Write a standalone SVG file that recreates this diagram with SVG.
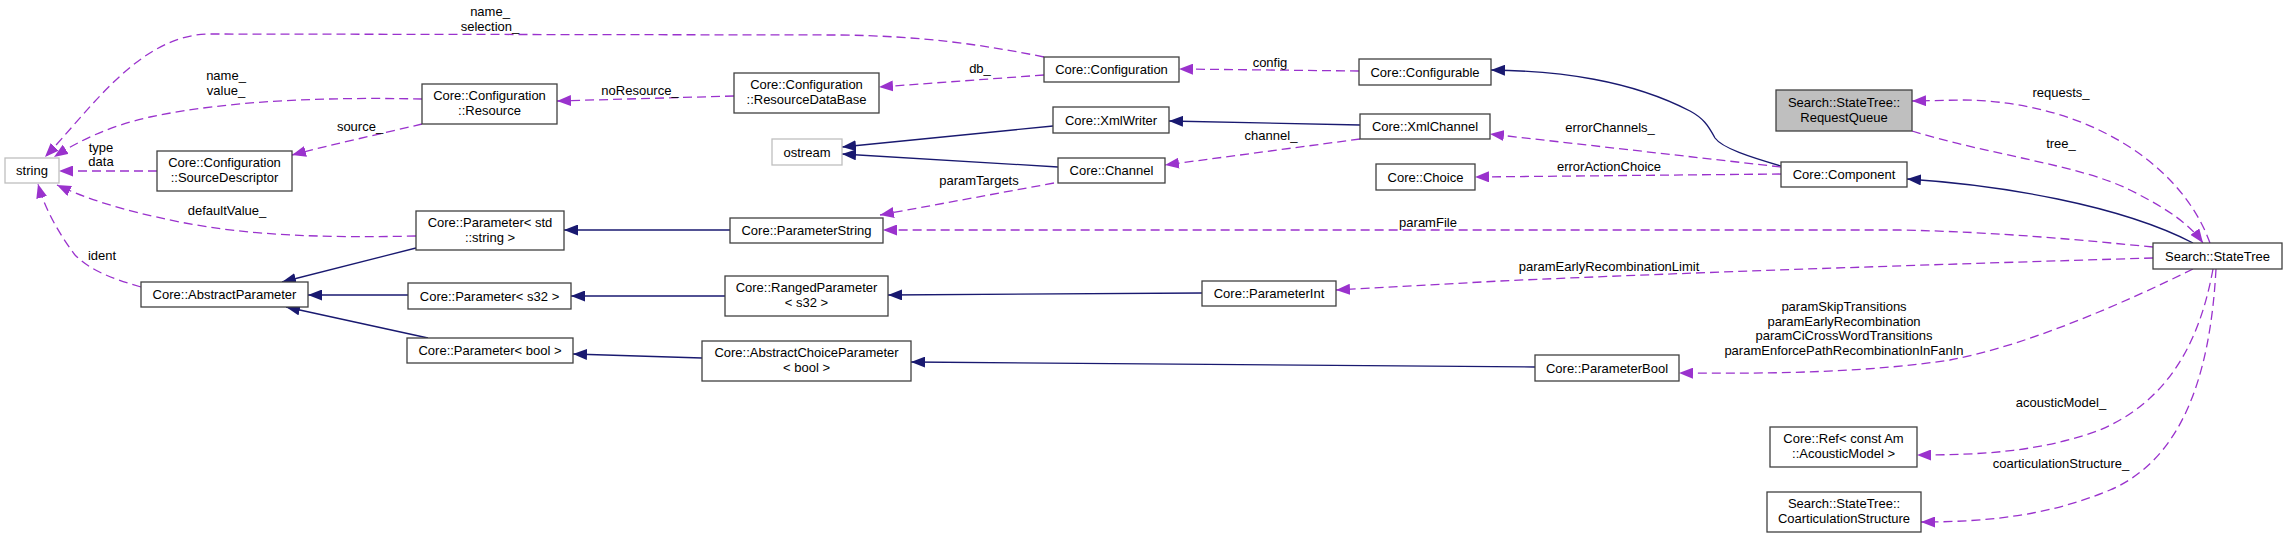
<svg xmlns="http://www.w3.org/2000/svg" width="2287" height="538" viewBox="0 0 2287 538">
<style>
text{font-family:"Liberation Sans",Arial,sans-serif;font-size:13px;fill:#000;text-anchor:middle}
.n{fill:#fff;stroke:#404040;stroke-width:1.3}
.x{fill:#fff;stroke:#bfbfbf;stroke-width:1.3}
.g{fill:#bfbfbf;stroke:#404040;stroke-width:1.3}
.i{fill:none;stroke:#191970;stroke-width:1.3;marker-end:url(#ab)}
.u{fill:none;stroke:#9a32cd;stroke-width:1.3;stroke-dasharray:9,5;marker-end:url(#ap)}
</style>
<defs>
<marker id="ab" markerUnits="userSpaceOnUse" markerWidth="14" markerHeight="11" refX="14" refY="5.5" orient="auto"><path d="M0,0 L14,5.5 L0,11 z" fill="#191970"/></marker>
<marker id="ap" markerUnits="userSpaceOnUse" markerWidth="14" markerHeight="11" refX="14" refY="5.5" orient="auto"><path d="M0,0 L14,5.5 L0,11 z" fill="#9a32cd"/></marker>
</defs>
<rect width="2287" height="538" fill="#fff"/>
<g id="edges">
<path class="u" d="M1044,57 C980,44 920,36 840,35 L210,34 C140,34 90,110 45,157"/>
<text x="490" y="16">name_</text><text x="490" y="30.5">selection_</text>
<path class="u" d="M422,99 C330,97 230,100 150,117 C110,126 80,140 54,157"/>
<text x="226" y="80">name_</text><text x="226" y="95">value_</text>
<path class="u" d="M422,124 C380,134 330,145 292,155"/>
<text x="360" y="131">source_</text>
<path class="u" d="M157,171 L59,171"/>
<text x="101" y="152">type</text><text x="101" y="166">data</text>
<path class="u" d="M416,236 C330,238 250,236 180,222 C120,210 85,198 57,185"/>
<text x="227" y="215">defaultValue_</text>
<path class="u" d="M141,287 C110,278 90,270 75,255 C60,235 45,210 38,184"/>
<text x="102" y="260">ident</text>
<path class="i" d="M416,248 L282,282"/>
<path class="i" d="M408,295 L308,295"/>
<path class="i" d="M428,338 L286,307"/>
<path class="i" d="M730,230 L564,230"/>
<path class="i" d="M725,296 L571,296"/>
<path class="i" d="M702,358 L573,354"/>
<path class="i" d="M1202,293 L888,295"/>
<path class="i" d="M1535,367 L911,362"/>
<path class="u" d="M734,96 L557,101"/>
<text x="640" y="95">noResource_</text>
<path class="u" d="M1044,75 L879,87"/>
<text x="980" y="73">db_</text>
<path class="u" d="M1359,71 L1179,69"/>
<text x="1270" y="67">config</text>
<path class="i" d="M1053,126 L842,147"/>
<path class="i" d="M1058,167 L842,154"/>
<path class="i" d="M1360,125 L1169,121"/>
<path class="u" d="M1360,139 L1165,165"/>
<text x="1271" y="140">channel_</text>
<path class="u" d="M1054,183 L880,215"/>
<text x="979" y="185">paramTargets</text>
<path class="i" d="M1781,166 C1750,157 1722,148 1715,138 C1708,125 1703,118 1690,111 C1630,80 1560,71 1491,70"/>
<path class="u" d="M1781,167 L1490,134"/>
<text x="1610" y="132">errorChannels_</text>
<path class="u" d="M1781,174 L1475,177"/>
<text x="1609" y="171">errorActionChoice</text>
<path class="i" d="M2193,243 C2120,205 2000,185 1907,179"/>
<path class="u" d="M2210,243 C2180,160 2080,100 1960,100 L1912,101"/>
<text x="2061" y="97">requests_</text>
<path class="u" d="M1912,131 C1990,155 2080,165 2130,190 C2170,210 2190,225 2203,243"/>
<text x="2061" y="148">tree_</text>
<path class="u" d="M2153,247 C2080,240 2000,232 1900,230 L883,230"/>
<text x="1428" y="227">paramFile</text>
<path class="u" d="M2153,258 C1950,264 1700,272 1500,281 L1336,290"/>
<text x="1609" y="271">paramEarlyRecombinationLimit</text>
<path class="u" d="M2193,269 C2130,300 2030,345 1950,360 C1870,372 1780,374 1679,373"/>
<text x="1844" y="311">paramSkipTransitions</text>
<text x="1844" y="325.5">paramEarlyRecombination</text>
<text x="1844" y="340">paramCiCrossWordTransitions</text>
<text x="1844" y="355">paramEnforcePathRecombinationInFanIn</text>
<path class="u" d="M2213,269 C2200,340 2170,400 2100,430 C2040,452 1980,455 1917,455"/>
<text x="2061" y="407">acousticModel_</text>
<path class="u" d="M2216,269 C2210,380 2180,460 2110,490 C2050,515 1990,522 1921,522"/>
<text x="2061" y="468">coarticulationStructure_</text>
</g>
<g id="string"><rect class="x" x="5" y="158" width="54" height="25"/><text x="32" y="175">string</text></g>
<g id="sourcedescriptor"><rect class="n" x="157" y="151" width="135" height="40"/><text x="224.5" y="167">Core::Configuration</text><text x="224.5" y="181.5">::SourceDescriptor</text></g>
<g id="resource"><rect class="n" x="422" y="84" width="135" height="40"/><text x="489.5" y="100">Core::Configuration</text><text x="489.5" y="115">::Resource</text></g>
<g id="paramstdstring"><rect class="n" x="416" y="211" width="148" height="39"/><text x="490" y="227">Core::Parameter&lt; std</text><text x="490" y="242">::string &gt;</text></g>
<g id="abstractparameter"><rect class="n" x="141" y="282" width="167" height="25"/><text x="224.5" y="299">Core::AbstractParameter</text></g>
<g id="params32"><rect class="n" x="408" y="283" width="163" height="26"/><text x="489.5" y="300.5">Core::Parameter&lt; s32 &gt;</text></g>
<g id="parambool"><rect class="n" x="407" y="338" width="166" height="25"/><text x="490" y="355">Core::Parameter&lt; bool &gt;</text></g>
<g id="rangedparameter"><rect class="n" x="725" y="276" width="163" height="40"/><text x="806.5" y="292">Core::RangedParameter</text><text x="806.5" y="307">&lt; s32 &gt;</text></g>
<g id="abstractchoiceparameter"><rect class="n" x="702" y="341" width="209" height="40"/><text x="806.5" y="357">Core::AbstractChoiceParameter</text><text x="806.5" y="372">&lt; bool &gt;</text></g>
<g id="parameterint"><rect class="n" x="1202" y="281" width="134" height="25"/><text x="1269" y="298">Core::ParameterInt</text></g>
<g id="resourcedatabase"><rect class="n" x="734" y="73" width="145" height="40"/><text x="806.5" y="89">Core::Configuration</text><text x="806.5" y="104">::ResourceDataBase</text></g>
<g id="ostream"><rect class="x" x="772" y="139" width="70" height="26"/><text x="807" y="156.5">ostream</text></g>
<g id="parameterstring"><rect class="n" x="730" y="218" width="153" height="25"/><text x="806.5" y="235">Core::ParameterString</text></g>
<g id="configuration"><rect class="n" x="1044" y="57" width="135" height="25"/><text x="1111.5" y="74">Core::Configuration</text></g>
<g id="xmlwriter"><rect class="n" x="1053" y="107" width="116" height="26"/><text x="1111" y="124.5">Core::XmlWriter</text></g>
<g id="channel"><rect class="n" x="1058" y="158" width="107" height="25"/><text x="1111.5" y="175">Core::Channel</text></g>
<g id="configurable"><rect class="n" x="1359" y="59" width="132" height="26"/><text x="1425" y="76.5">Core::Configurable</text></g>
<g id="xmlchannel"><rect class="n" x="1360" y="114" width="130" height="25"/><text x="1425" y="131">Core::XmlChannel</text></g>
<g id="choice"><rect class="n" x="1376" y="164" width="99" height="26"/><text x="1425.5" y="181.5">Core::Choice</text></g>
<g id="requestqueue"><rect class="g" x="1776" y="90" width="136" height="41"/><text x="1844" y="106.5">Search::StateTree::</text><text x="1844" y="121.5">RequestQueue</text></g>
<g id="component"><rect class="n" x="1781" y="162" width="126" height="25"/><text x="1844" y="179">Core::Component</text></g>
<g id="statetree"><rect class="n" x="2153" y="243" width="129" height="26"/><text x="2217.5" y="260.5">Search::StateTree</text></g>
<g id="parameterbool"><rect class="n" x="1535" y="355" width="144" height="26"/><text x="1607" y="372.5">Core::ParameterBool</text></g>
<g id="refacousticmodel"><rect class="n" x="1770" y="427" width="147" height="40"/><text x="1843.5" y="443">Core::Ref&lt; const Am</text><text x="1843.5" y="458">::AcousticModel &gt;</text></g>
<g id="coarticulation"><rect class="n" x="1767" y="492" width="154" height="40"/><text x="1844" y="508">Search::StateTree::</text><text x="1844" y="523">CoarticulationStructure</text></g>
</svg>
